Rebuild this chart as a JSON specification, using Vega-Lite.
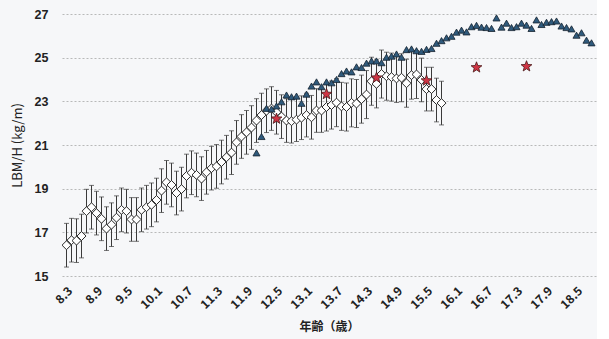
{
  "$schema": "https://vega.github.io/schema/vega-lite/v6.json",
  "padding": {"left": 11, "top": 8, "right": 0, "bottom": 10},
  "width": 534,
  "height": 262,
  "background": "#f6f7f9",
  "config": {
    "view": {"stroke": null},
    "font": "Noto Sans CJK JP",
    "axis": {"labelOverlap": false, "labelSeparation": 0}
  },
  "data": {
    "values": [
      {"age": 8.3, "m": 16.41, "lo": 15.41, "hi": 17.41},
      {"age": 8.4, "m": 16.64, "lo": 15.64, "hi": 17.64},
      {"age": 8.5, "m": 16.62, "lo": 15.62, "hi": 17.62},
      {"age": 8.6, "m": 16.83, "lo": 15.83, "hi": 17.83},
      {"age": 8.7, "m": 17.97, "lo": 16.97, "hi": 18.97},
      {"age": 8.8, "m": 18.15, "lo": 17.15, "hi": 19.15},
      {"age": 8.9, "m": 17.88, "lo": 16.88, "hi": 18.88},
      {"age": 9.0, "m": 17.62, "lo": 16.62, "hi": 18.62},
      {"age": 9.1, "m": 17.17, "lo": 16.17, "hi": 18.17},
      {"age": 9.2, "m": 17.35, "lo": 16.35, "hi": 18.35},
      {"age": 9.3, "m": 17.67, "lo": 16.67, "hi": 18.67},
      {"age": 9.4, "m": 18.03, "lo": 17.03, "hi": 19.03},
      {"age": 9.5, "m": 17.97, "lo": 16.97, "hi": 18.97},
      {"age": 9.6, "m": 17.59, "lo": 16.59, "hi": 18.59},
      {"age": 9.7, "m": 17.59, "lo": 16.59, "hi": 18.59},
      {"age": 9.8, "m": 18.03, "lo": 17.03, "hi": 19.03},
      {"age": 9.9, "m": 18.15, "lo": 17.15, "hi": 19.15},
      {"age": 10.0, "m": 18.26, "lo": 17.26, "hi": 19.26},
      {"age": 10.1, "m": 18.48, "lo": 17.48, "hi": 19.48},
      {"age": 10.2, "m": 18.91, "lo": 17.91, "hi": 19.91},
      {"age": 10.3, "m": 19.29, "lo": 18.29, "hi": 20.29},
      {"age": 10.4, "m": 19.17, "lo": 18.17, "hi": 20.17},
      {"age": 10.5, "m": 18.80, "lo": 17.80, "hi": 19.80},
      {"age": 10.6, "m": 18.98, "lo": 17.98, "hi": 19.98},
      {"age": 10.7, "m": 19.58, "lo": 18.58, "hi": 20.58},
      {"age": 10.8, "m": 19.73, "lo": 18.73, "hi": 20.73},
      {"age": 10.9, "m": 19.63, "lo": 18.63, "hi": 20.63},
      {"age": 11.0, "m": 19.46, "lo": 18.46, "hi": 20.46},
      {"age": 11.1, "m": 19.75, "lo": 18.75, "hi": 20.75},
      {"age": 11.2, "m": 19.94, "lo": 18.94, "hi": 20.94},
      {"age": 11.3, "m": 20.02, "lo": 19.02, "hi": 21.02},
      {"age": 11.4, "m": 20.22, "lo": 19.22, "hi": 21.22},
      {"age": 11.5, "m": 20.44, "lo": 19.44, "hi": 21.44},
      {"age": 11.6, "m": 20.65, "lo": 19.65, "hi": 21.65},
      {"age": 11.7, "m": 21.12, "lo": 20.12, "hi": 22.12},
      {"age": 11.8, "m": 21.39, "lo": 20.39, "hi": 22.39},
      {"age": 11.9, "m": 21.58, "lo": 20.58, "hi": 22.58},
      {"age": 12.0, "m": 21.80, "lo": 20.80, "hi": 22.80},
      {"age": 12.1, "m": 22.12, "lo": 21.12, "hi": 23.12, "t": 20.64},
      {"age": 12.2, "m": 22.37, "lo": 21.37, "hi": 23.37, "t": 21.39},
      {"age": 12.3, "m": 22.57, "lo": 21.57, "hi": 23.57, "t": 22.68},
      {"age": 12.4, "m": 22.67, "lo": 21.67, "hi": 23.67, "t": 22.65},
      {"age": 12.5, "m": 22.50, "lo": 21.50, "hi": 23.50, "t": 22.79, "s": 22.2},
      {"age": 12.6, "m": 22.30, "lo": 21.30, "hi": 23.30, "t": 22.98},
      {"age": 12.7, "m": 22.12, "lo": 21.12, "hi": 23.12, "t": 23.29},
      {"age": 12.8, "m": 22.09, "lo": 21.09, "hi": 23.09, "t": 23.21},
      {"age": 12.9, "m": 22.16, "lo": 21.16, "hi": 23.16, "t": 23.24},
      {"age": 13.0, "m": 22.25, "lo": 21.25, "hi": 23.25, "t": 22.91},
      {"age": 13.1, "m": 22.37, "lo": 21.37, "hi": 23.37, "t": 23.33},
      {"age": 13.2, "m": 22.27, "lo": 21.27, "hi": 23.27, "t": 23.70},
      {"age": 13.3, "m": 22.58, "lo": 21.58, "hi": 23.58, "t": 23.89},
      {"age": 13.4, "m": 22.58, "lo": 21.58, "hi": 23.58, "t": 23.67},
      {"age": 13.5, "m": 22.74, "lo": 21.64, "hi": 23.84, "t": 23.89, "s": 23.33},
      {"age": 13.6, "m": 22.83, "lo": 21.73, "hi": 23.93, "t": 23.85},
      {"age": 13.7, "m": 22.94, "lo": 21.84, "hi": 24.04, "t": 24.00},
      {"age": 13.8, "m": 22.77, "lo": 21.67, "hi": 23.87, "t": 24.27},
      {"age": 13.9, "m": 22.74, "lo": 21.64, "hi": 23.84, "t": 24.39},
      {"age": 14.0, "m": 22.93, "lo": 21.83, "hi": 24.03, "t": 24.35},
      {"age": 14.1, "m": 22.90, "lo": 21.80, "hi": 24.00, "t": 24.58},
      {"age": 14.2, "m": 23.10, "lo": 22.00, "hi": 24.20, "t": 24.55},
      {"age": 14.3, "m": 23.31, "lo": 22.21, "hi": 24.41, "t": 24.75},
      {"age": 14.4, "m": 23.92, "lo": 22.82, "hi": 25.02, "t": 24.85},
      {"age": 14.5, "m": 23.80, "lo": 22.70, "hi": 24.90, "t": 24.85, "s": 24.08},
      {"age": 14.6, "m": 24.25, "lo": 23.15, "hi": 25.35, "t": 24.77},
      {"age": 14.7, "m": 24.15, "lo": 23.05, "hi": 25.25, "t": 25.02},
      {"age": 14.8, "m": 24.11, "lo": 23.01, "hi": 25.21, "t": 25.07},
      {"age": 14.9, "m": 24.05, "lo": 22.95, "hi": 25.15, "t": 25.17},
      {"age": 15.0, "m": 24.08, "lo": 22.98, "hi": 25.18, "t": 25.02},
      {"age": 15.1, "m": 23.83, "lo": 22.73, "hi": 24.93, "t": 25.37},
      {"age": 15.2, "m": 24.20, "lo": 23.10, "hi": 25.30, "t": 25.40},
      {"age": 15.3, "m": 24.23, "lo": 23.13, "hi": 25.33, "t": 25.32},
      {"age": 15.4, "m": 23.98, "lo": 22.98, "hi": 24.98, "t": 25.29},
      {"age": 15.5, "m": 23.56, "lo": 22.56, "hi": 24.56, "t": 25.38, "s": 23.95},
      {"age": 15.6, "m": 23.56, "lo": 22.56, "hi": 24.56, "t": 25.42},
      {"age": 15.7, "m": 23.06, "lo": 22.06, "hi": 24.06, "t": 25.66},
      {"age": 15.8, "m": 22.92, "lo": 21.92, "hi": 23.92, "t": 25.78},
      {"age": 15.9, "t": 25.91},
      {"age": 16.0, "t": 25.98},
      {"age": 16.1, "t": 26.17},
      {"age": 16.2, "t": 26.26},
      {"age": 16.3, "t": 26.18},
      {"age": 16.4, "t": 26.42},
      {"age": 16.5, "t": 26.48, "s": 24.55},
      {"age": 16.6, "t": 26.40},
      {"age": 16.7, "t": 26.38},
      {"age": 16.8, "t": 26.34},
      {"age": 16.9, "t": 26.82},
      {"age": 17.0, "t": 26.40},
      {"age": 17.1, "t": 26.58},
      {"age": 17.2, "t": 26.38},
      {"age": 17.3, "t": 26.42},
      {"age": 17.4, "t": 26.58},
      {"age": 17.5, "t": 26.49, "s": 24.6},
      {"age": 17.6, "t": 26.34},
      {"age": 17.7, "t": 26.73},
      {"age": 17.8, "t": 26.52},
      {"age": 17.9, "t": 26.62},
      {"age": 18.0, "t": 26.65},
      {"age": 18.1, "t": 26.68},
      {"age": 18.2, "t": 26.45},
      {"age": 18.3, "t": 26.38},
      {"age": 18.4, "t": 26.32},
      {"age": 18.5, "t": 26.03},
      {"age": 18.6, "t": 26.14},
      {"age": 18.7, "t": 25.80},
      {"age": 18.8, "t": 25.68}
    ]
  },
  "encoding": {
    "x": {
      "field": "age", "type": "quantitative",
      "scale": {"domain": [8.21, 18.89], "nice": false, "zero": false},
      "axis": {
        "orient": "bottom",
        "title": "年齢（歳）",
        "values": [8.3, 8.9, 9.5, 10.1, 10.7, 11.3, 11.9, 12.5, 13.1, 13.7, 14.3, 14.9, 15.5, 16.1, 16.7, 17.3, 17.9, 18.5],
        "format": ".1f",
        "labelAngle": -45,
        "labelFontSize": 12,
        "labelFontWeight": "bold",
        "labelColor": "#222",
        "labelPadding": 9,
        "grid": false, "domain": false, "ticks": false,
        "titleFontSize": 12, "titleFontWeight": "bold", "titleColor": "#222",
        "titlePadding": 11
      }
    }
  },
  "layer": [
    {
      "mark": {"type": "errorbar", "ticks": {"size": 5, "thickness": 1}, "color": "#3a3a3a", "thickness": 1},
      "encoding": {
        "y": {
          "field": "lo", "type": "quantitative",
          "scale": {"domain": [15, 27], "nice": false, "zero": false},
          "axis": {
            "orient": "left",
            "title": "LBM/H (kg/m)",
            "values": [15, 16, 17, 18, 19, 20, 21, 22, 23, 24, 25, 26, 27],
            "labelFont": "Liberation Sans",
            "labelFontSize": 12.5, "labelFontWeight": "bold", "labelColor": "#222",
            "labelPadding": 14,
            "domain": false, "ticks": false,
            "grid": true, "gridColor": "#a8a8a8", "gridDash": [2, 2], "gridWidth": 0.8,
            "titleFontSize": 13, "titleFontWeight": "normal", "titleColor": "#222",
            "titlePadding": 10
          }
        },
        "y2": {"field": "hi"}
      }
    },
    {
      "mark": {"type": "point", "shape": "diamond", "filled": true, "fill": "#ffffff", "stroke": "#2a2a2a", "strokeWidth": 1, "size": 80, "opacity": 1},
      "encoding": {"y": {"field": "m", "type": "quantitative"}}
    },
    {
      "mark": {"type": "point", "shape": "triangle-up", "filled": true, "fill": "#2f5a7c", "stroke": "#15222e", "strokeWidth": 0.8, "size": 50, "opacity": 1},
      "encoding": {"y": {"field": "t", "type": "quantitative"}}
    },
    {
      "mark": {"type": "point", "shape": "M0,-1L0.247,-0.34L0.951,-0.309L0.4,0.13L0.588,0.809L0,0.42L-0.588,0.809L-0.4,0.13L-0.951,-0.309L-0.247,-0.34Z", "filled": true, "fill": "#cf3444", "stroke": "#4a1b1b", "strokeWidth": 0.8, "size": 130, "opacity": 1},
      "encoding": {"y": {"field": "s", "type": "quantitative"}}
    }
  ]
}
